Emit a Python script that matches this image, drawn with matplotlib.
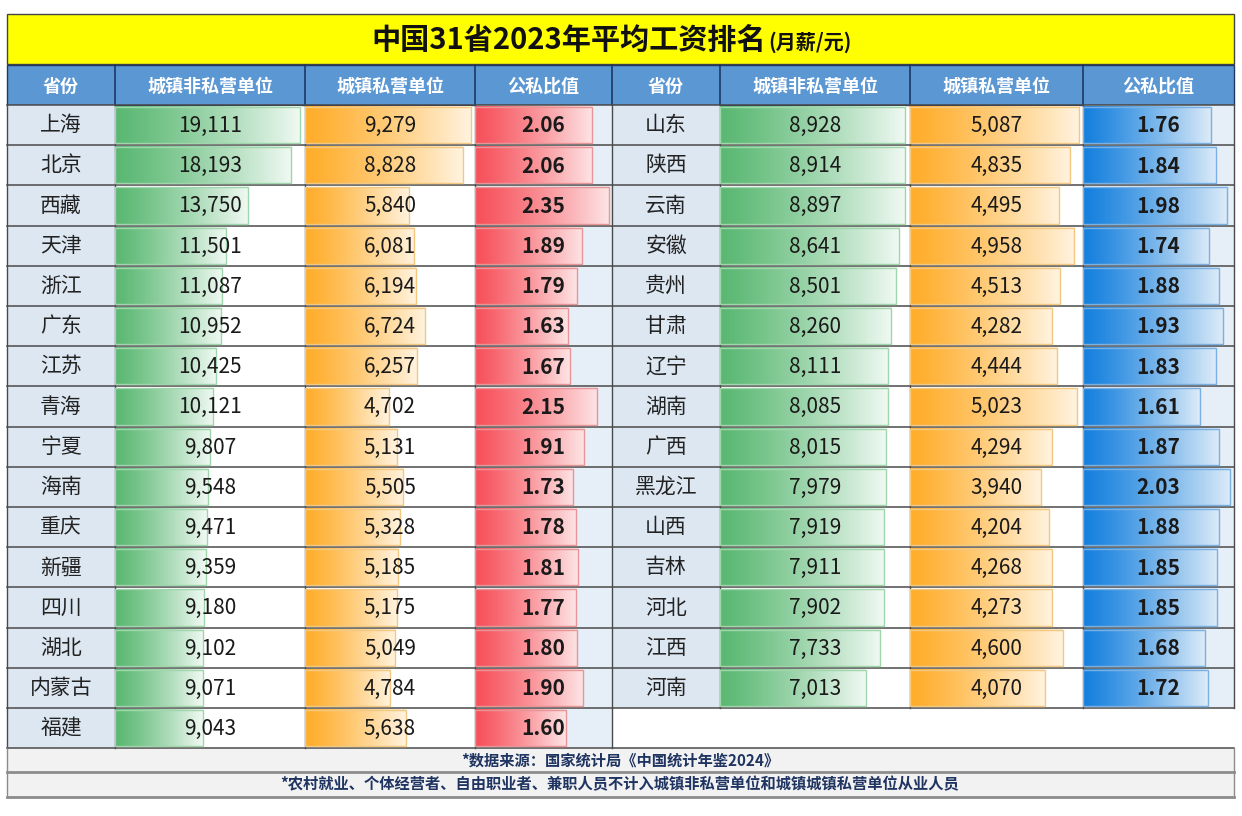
import numpy as np
import matplotlib.pyplot as plt
from matplotlib.patches import Rectangle
from matplotlib.colors import to_rgb

plt.rcParams['font.family'] = ['Noto Sans CJK SC', 'DejaVu Sans']

# data
title = '中国31省2023年平均工资排名'
subtitle = '(月薪/元)'
headers = ['省份', '城镇非私营单位', '城镇私营单位', '公私比值']
notes = ['*数据来源：国家统计局《中国统计年鉴2024》',
         '*农村就业、个体经营者、自由职业者、兼职人员不计入城镇非私营单位和城镇城镇私营单位从业人员']

left_prov = ['上海', '北京', '西藏', '天津', '浙江', '广东', '江苏', '青海',
             '宁夏', '海南', '重庆', '新疆', '四川', '湖北', '内蒙古', '福建']
left_nonpriv = [19111, 18193, 13750, 11501, 11087, 10952, 10425, 10121,
                9807, 9548, 9471, 9359, 9180, 9102, 9071, 9043]
left_priv = [9279, 8828, 5840, 6081, 6194, 6724, 6257, 4702,
             5131, 5505, 5328, 5185, 5175, 5049, 4784, 5638]
left_ratio = [2.06, 2.06, 2.35, 1.89, 1.79, 1.63, 1.67, 2.15,
              1.91, 1.73, 1.78, 1.81, 1.77, 1.80, 1.90, 1.60]

right_prov = ['山东', '陕西', '云南', '安徽', '贵州', '甘肃', '辽宁', '湖南',
              '广西', '黑龙江', '山西', '吉林', '河北', '江西', '河南']
right_nonpriv = [8928, 8914, 8897, 8641, 8501, 8260, 8111, 8085,
                 8015, 7979, 7919, 7911, 7902, 7733, 7013]
right_priv = [5087, 4835, 4495, 4958, 4513, 4282, 4444, 5023,
              4294, 3940, 4204, 4268, 4273, 4600, 4070]
right_ratio = [1.76, 1.84, 1.98, 1.74, 1.88, 1.93, 1.83, 1.61,
               1.87, 2.03, 1.88, 1.85, 1.85, 1.68, 1.72]

# layout in pixels
W, H = 1242, 816
col_x = [7, 115, 305, 475, 612, 720, 910, 1083, 1234]
title_y = (14, 64)
head_y = (65, 105)
row_h = 40.2
n_rows = 16
data_bot = head_y[1] + n_rows * row_h
foot_y = [data_bot, 772, 797]

fig = plt.figure(figsize=(W / 100, H / 100), dpi=100)
ax = fig.add_axes([0, 0, 1, 1])
ax.set_xlim(0, W)
ax.set_ylim(H, 0)
ax.axis('off')

# title band
ax.add_patch(Rectangle((col_x[0], title_y[0]), col_x[-1] - col_x[0], title_y[1] - title_y[0],
                       fc='#ffff00', ec='#444444', lw=1))
ax.text(766, 40, title, ha='right', va='center', fontsize=21, fontweight='bold', color='#111111')
ax.text(768, 42, subtitle, ha='left', va='center', fontsize=14.5, fontweight='bold', color='#111111')

# header band
ax.add_patch(Rectangle((col_x[0], head_y[0]), col_x[-1] - col_x[0], head_y[1] - head_y[0],
                       fc='#5b97d3', ec='#1f3864', lw=1))
for k in range(8):
    cx = (col_x[k] + col_x[k + 1]) / 2
    ax.text(cx, (head_y[0] + head_y[1]) / 2 + 1, headers[k % 4], ha='center', va='center',
            fontsize=13, fontweight='bold', color='white')
for x in col_x[1:-1]:
    ax.plot([x, x], head_y, color='#1f3864', lw=1.2)

# cell backgrounds
def row_top(i):
    return head_y[1] + i * row_h

for i in range(n_rows):
    ax.add_patch(Rectangle((col_x[0], row_top(i)), col_x[1] - col_x[0], row_h, fc='#dde7f2', ec='none'))
    ax.add_patch(Rectangle((col_x[3], row_top(i)), col_x[4] - col_x[3], row_h, fc='#e6eef8', ec='none'))
    ax.text((col_x[0] + col_x[1]) / 2, row_top(i) + row_h / 2, left_prov[i], ha='center', va='center',
            fontsize=15, color='#222222')
for i in range(len(right_prov)):
    ax.add_patch(Rectangle((col_x[4], row_top(i)), col_x[5] - col_x[4], row_h, fc='#dde7f2', ec='none'))
    ax.add_patch(Rectangle((col_x[7], row_top(i)), col_x[8] - col_x[7], row_h, fc='#e6eef8', ec='none'))
    ax.text((col_x[4] + col_x[5]) / 2, row_top(i) + row_h / 2, right_prov[i], ha='center', va='center',
            fontsize=15, color='#222222')


def bar_column(k, values, c0, c1, edge, fmt, bold):
    x0, x1 = col_x[k], col_x[k + 1]
    cax = fig.add_axes([x0 / W, 1 - data_bot / H, (x1 - x0) / W, (data_bot - head_y[1]) / H])
    cax.patch.set_alpha(0)
    cax.axis('off')
    xmax = max(values) / 0.975
    t = np.linspace(0, 1, 256)[:, None] ** 1.2
    img = ((1 - t) * np.array(to_rgb(c0)) + t * np.array(to_rgb(c1)))[None, :, :]
    for i, v in enumerate(values):
        cax.imshow(img, extent=(0, v, i + 0.95, i + 0.05), aspect='auto',
                   interpolation='bilinear', zorder=1)
        cax.add_patch(Rectangle((0, i + 0.05), v, 0.9, fill=False, ec=edge, lw=1, zorder=2))
        cax.text(xmax / 2, i + 0.52, fmt(v), ha='center', va='center', fontsize=15,
                 fontweight='bold' if bold else 'normal', color='#1a1a1a', zorder=3)
    cax.set_xlim(0, xmax)
    cax.set_ylim(n_rows, 0)


money = lambda v: f'{v:,}'
ratio = lambda v: f'{v:.2f}'
green = ('#5ab872', '#f0f9f3', '#9fd6ac')
orange = ('#ffad2a', '#fff3df', '#f3c982')
red = ('#f7505a', '#fde4e5', '#e99496')
blue = ('#1580de', '#dcebf8', '#7ab0e2')

bar_column(1, left_nonpriv, *green, money, False)
bar_column(2, left_priv, *orange, money, False)
bar_column(3, left_ratio, *red, ratio, True)
bar_column(5, right_nonpriv, *green, money, False)
bar_column(6, right_priv, *orange, money, False)
bar_column(7, right_ratio, *blue, ratio, True)

# grid lines
for i in range(n_rows + 1):
    y = row_top(i)
    ax.plot([col_x[0], col_x[-1]], [y, y], color='#4a4a4a', lw=1.1, zorder=5)
for x in col_x:
    ax.plot([x, x], [head_y[1], row_top(n_rows - 1)], color='#4a4a4a', lw=1, zorder=5)
for x in col_x[:5]:
    ax.plot([x, x], [row_top(n_rows - 1), data_bot], color='#4a4a4a', lw=1, zorder=5)

# footer
for j in range(2):
    ax.add_patch(Rectangle((col_x[0], foot_y[j]), col_x[-1] - col_x[0], foot_y[j + 1] - foot_y[j],
                           fc='#f2f2f2', ec='none'))
    ax.text(620, (foot_y[j] + foot_y[j + 1]) / 2, notes[j], ha='center', va='center',
            fontsize=11, fontweight='bold', color='#1f3461')
    ax.plot([col_x[0], col_x[-1]], [foot_y[j + 1], foot_y[j + 1]], color='#8c8c8c', lw=2, zorder=5)
for x in (col_x[0], col_x[-1]):
    ax.plot([x, x], [foot_y[0], foot_y[2]], color='#8c8c8c', lw=1, zorder=5)

fig.savefig('out.png', dpi=100, facecolor='white')
